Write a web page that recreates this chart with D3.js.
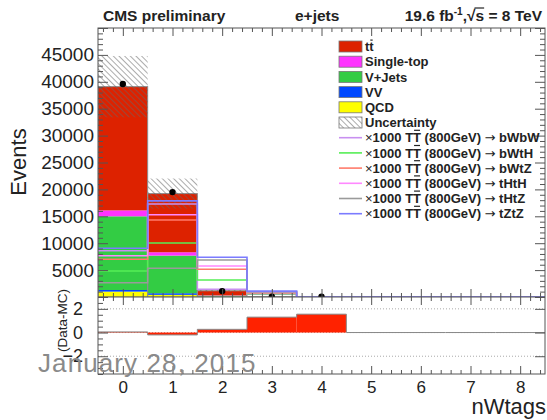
<!DOCTYPE html>
<html>
<head>
<meta charset="utf-8">
<script src="https://cdn.jsdelivr.net/npm/d3@7"></script>
<style>
body { margin: 0; background: #fff; }
text { font-family: "Liberation Sans", Arial, Helvetica, sans-serif; fill: #222; }
</style>
</head>
<body>
<script>
/* Data (nWtags bins 0..8) */
var bins = [0, 1, 2, 3, 4, 5, 6, 7, 8];
var ttbar     = [23000, 10900, 850, 40, 10, 0, 0, 0, 0];
var singleTop = [1100, 620, 60, 10, 0, 0, 0, 0, 0];
var vJets     = [13700, 7000, 200, 10, 0, 0, 0, 0, 0];
var vv        = [300, 300, 20, 0, 0, 0, 0, 0, 0];
var qcd       = [1000, 400, 30, 0, 0, 0, 0, 0, 0];
var mcUnc     = [5700, 2800, 150, 20, 5, 0, 0, 0, 0];
var dataBins  = [0, 1, 2, 3, 4];
var dataVals  = [39600, 19500, 1100, 60, 60];
var ratioVals = [0.05, -0.2, 0.27, 1.3, 1.55, 0, 0, 0, 0];

// x1000 signal templates
var sigBWbW = [8600, 17300, 1430, 500, 0, 0, 0, 0, 0];
var sigBWtH = [4840, 10040, 3160, 600, 0, 0, 0, 0, 0];
var sigBWtZ = [7010, 14300, 5150, 750, 0, 0, 0, 0, 0];
var sigTHtH = [7680, 15300, 5770, 850, 0, 0, 0, 0, 0];
var sigTHtZ = [2660, 5340, 6880, 950, 0, 0, 0, 0, 0];
var sigTZtZ = [9060, 17860, 7380, 1100, 0, 0, 0, 0, 0];

var stackKeys   = ["qcd", "vv", "vjets", "st", "tt"];
var stackColors = {qcd: "#ffff00", vv: "#0048ff", vjets: "#33cc44", st: "#ff33ff", tt: "#dd2200"};
var legendLabels = ["tt", "Single-top", "V+Jets", "VV", "QCD", "Uncertainty"];
var legendKeys   = ["tt", "st", "vjets", "vv", "qcd", "unc"];
var sigNames  = ["bWbW", "bWtH", "bWtZ", "tHtH", "tHtZ", "tZtZ"];
var sigColors = ["#c890f0", "#55ee55", "#ff7b6b", "#ff88ff", "#9a9a9a", "#7b7bff"];
var sigVals   = [sigBWbW, sigBWtH, sigBWtZ, sigTHtH, sigTHtZ, sigTZtZ];
var ratioTicks = [-2, 0, 2];

/* Display setup */
var W = 547, H = 420,
	pad = {left: 98, right: 545, top: 28, mid: 297, bottom: 374},
	x = d3.scaleLinear().domain([-0.5, 8.5]).range([pad.left, pad.right]),
	y = d3.scaleLinear().domain([0, 50000]).range([pad.mid, pad.top]),
	yr = d3.scaleLinear().domain([-3.5, 3]).range([pad.bottom, pad.mid]),
	svg = d3.select("body").append("svg").attr("width", W).attr("height", H);

svg.append("rect").attr("width", W).attr("height", H).style("fill", "white");

var defs = svg.append("defs");
defs.append("clipPath").attr("id", "clip-top")
	.append("rect").attr("x", pad.left).attr("y", pad.top)
	.attr("width", pad.right - pad.left).attr("height", pad.mid - pad.top);
defs.append("clipPath").attr("id", "clip-ratio")
	.append("rect").attr("x", pad.left).attr("y", pad.mid)
	.attr("width", pad.right - pad.left).attr("height", pad.bottom - pad.mid);
defs.append("clipPath").attr("id", "clip-rlabel")
	.append("rect").attr("x", 0).attr("y", 289).attr("width", pad.left).attr("height", 100);
var hatch = defs.append("pattern").attr("id", "hatch")
	.attr("patternUnits", "userSpaceOnUse").attr("width", 4).attr("height", 4)
	.attr("patternTransform", "rotate(-45)");
hatch.append("line").attr("x1", 0).attr("y1", 0).attr("x2", 0).attr("y2", 4)
	.style("stroke", "#666").style("stroke-width", 1.1);

function edgeL(b) { return x(b - 0.5); }
function edgeR(b) { return x(b + 0.5); }
function stepPoints(vals) {
	var pts = [];
	vals.forEach(function(v, i) { pts.push([edgeL(bins[i]), v]); pts.push([edgeR(bins[i]), v]); });
	return pts;
}

/* Stack */
var rows = bins.map(function(b, i) {
	return {bin: b, qcd: qcd[i], vv: vv[i], vjets: vJets[i], st: singleTop[i], tt: ttbar[i]};
});
var series = d3.stack().keys(stackKeys)(rows);
var topPad = svg.append("g").attr("clip-path", "url(#clip-top)");

topPad.selectAll("g.layer")
	.data(series)
	.enter().append("g")
		.attr("class", "layer")
		.style("fill", function(d) { return stackColors[d.key]; })
	.selectAll("rect")
	.data(function(d) { return d; })
	.enter().append("rect")
		.attr("x", function(d) { return edgeL(d.data.bin); })
		.attr("width", function(d) { return edgeR(d.data.bin) - edgeL(d.data.bin); })
		.attr("y", function(d) { return y(d[1]); })
		.attr("height", function(d) { return y(d[0]) - y(d[1]); });

var totals = rows.map(function(r) { return r.qcd + r.vv + r.vjets + r.st + r.tt; });

topPad.selectAll("rect.total")
	.data(rows.filter(function(r, i) { return totals[i] > 0; }))
	.enter().append("rect")
		.attr("class", "total")
		.attr("x", function(d) { return edgeL(d.bin); })
		.attr("width", function(d) { return edgeR(d.bin) - edgeL(d.bin); })
		.attr("y", function(d) { return y(totals[d.bin]); })
		.attr("height", function(d) { return y(0) - y(totals[d.bin]); })
		.style("fill", "none").style("stroke", "#8c8c8c").style("stroke-width", 1);

topPad.selectAll("rect.unc")
	.data(bins.filter(function(b) { return mcUnc[b] > 0; }))
	.enter().append("rect")
		.attr("class", "unc")
		.attr("x", function(b) { return edgeL(b); })
		.attr("width", function(b) { return edgeR(b) - edgeL(b); })
		.attr("y", function(b) { return y(totals[b] + mcUnc[b]); })
		.attr("height", function(b) { return y(Math.max(0, totals[b] - mcUnc[b])) - y(totals[b] + mcUnc[b]); })
		.style("fill", "url(#hatch)");

/* Signal lines */
var sigLine = d3.line().x(function(p) { return p[0]; }).y(function(p) { return y(p[1]); });
topPad.selectAll("path.sig")
	.data(sigVals)
	.enter().append("path")
		.attr("class", "sig")
		.attr("d", function(d) { return sigLine(stepPoints(d)); })
		.style("fill", "none")
		.style("stroke", function(d, i) { return sigColors[i]; })
		.style("stroke-width", 1.6);

/* Data points */
var pts = topPad.selectAll("g.pt")
	.data(dataBins)
	.enter().append("g").attr("class", "pt");
pts.append("line")
	.attr("x1", function(b) { return x(b); }).attr("x2", function(b) { return x(b); })
	.attr("y1", function(b, i) { return y(dataVals[i] + Math.sqrt(dataVals[i])); })
	.attr("y2", function(b, i) { return y(dataVals[i] - Math.sqrt(dataVals[i])); })
	.style("stroke", "black");
pts.append("circle")
	.attr("cx", function(b) { return x(b); })
	.attr("cy", function(b, i) { return y(dataVals[i]); })
	.attr("r", 3.2).style("fill", "black");

/* Ratio pad */
var rg = svg.append("g").attr("clip-path", "url(#clip-ratio)");
rg.selectAll("line.grid")
	.data(ratioTicks)
	.enter().append("line")
		.attr("x1", pad.left).attr("x2", pad.right)
		.attr("y1", function(d) { return yr(d); }).attr("y2", function(d) { return yr(d); })
		.style("stroke", "#aaa").style("stroke-dasharray", "1,2");
rg.selectAll("rect.ratio")
	.data(bins)
	.enter().append("rect")
		.attr("x", function(b) { return edgeL(b); })
		.attr("width", function(b) { return edgeR(b) - edgeL(b); })
		.attr("y", function(b) { return yr(Math.max(0, ratioVals[b])); })
		.attr("height", function(b) { return Math.abs(yr(0) - yr(ratioVals[b])); })
		.style("fill", "#ff2200");
rg.append("path")
	.attr("d", d3.line().x(function(p) { return p[0]; }).y(function(p) { return yr(p[1]); })(stepPoints(ratioVals)))
	.style("fill", "none").style("stroke", "#888").style("stroke-width", 1);

/* Axes (ROOT style, ticks inside) */
function styleAxis(g, fs) {
	g.select(".domain").remove();
	g.selectAll("line").style("stroke", "#555");
	g.selectAll("text").attr("font-family", null).attr("font-size", null)
		.style("font-size", fs + "px").style("fill", "#222");
	g.attr("font-family", null).attr("font-size", null);
}
function addAxis(axis, tx, ty, fs) {
	svg.append("g").attr("transform", "translate(" + tx + "," + ty + ")").call(axis).call(styleAxis, fs);
}
var xMajor = d3.range(0, 9, 1), xMinor = d3.range(-0.4, 8.5, 0.2).filter(function(v) { return Math.abs(v - Math.round(v)) > 0.01; });
var yMajor = d3.range(0, 50001, 5000), yMinor = d3.range(1000, 50000, 1000).filter(function(v) { return v % 5000; });
var rMinor = d3.range(-3.5, 3.01, 0.5).filter(function(v) { return v % 2; });

// upper pad
addAxis(d3.axisLeft(y).tickValues(yMajor).tickSize(-10).tickSizeOuter(0).tickPadding(4)
	.tickFormat(function(d) { return d > 0 && d < 50000 ? d : ""; }), pad.left, 0, 19);
addAxis(d3.axisLeft(y).tickValues(yMinor).tickSize(-5).tickSizeOuter(0).tickFormat(""), pad.left, 0, 10);
addAxis(d3.axisRight(y).tickValues(yMajor).tickSize(-10).tickSizeOuter(0).tickFormat(""), pad.right, 0, 10);
addAxis(d3.axisRight(y).tickValues(yMinor).tickSize(-5).tickSizeOuter(0).tickFormat(""), pad.right, 0, 10);
addAxis(d3.axisTop(x).tickValues(xMajor).tickSize(-8).tickSizeOuter(0).tickFormat(""), 0, pad.top, 10);
addAxis(d3.axisTop(x).tickValues(xMinor).tickSize(-4).tickSizeOuter(0).tickFormat(""), 0, pad.top, 10);
addAxis(d3.axisBottom(x).tickValues(xMajor).tickSize(-8).tickSizeOuter(0).tickFormat(""), 0, pad.mid, 10);
addAxis(d3.axisBottom(x).tickValues(xMinor).tickSize(-4).tickSizeOuter(0).tickFormat(""), 0, pad.mid, 10);
// ratio pad
addAxis(d3.axisTop(x).tickValues(xMajor).tickSize(-8).tickSizeOuter(0).tickFormat(""), 0, pad.mid, 10);
addAxis(d3.axisTop(x).tickValues(xMinor).tickSize(-4).tickSizeOuter(0).tickFormat(""), 0, pad.mid, 10);
addAxis(d3.axisBottom(x).tickValues(xMajor).tickSize(-8).tickSizeOuter(0).tickPadding(7), 0, pad.bottom, 17);
addAxis(d3.axisBottom(x).tickValues(xMinor).tickSize(-4).tickSizeOuter(0).tickFormat(""), 0, pad.bottom, 10);
addAxis(d3.axisLeft(yr).tickValues(ratioTicks).tickSize(-10).tickSizeOuter(0).tickPadding(15)
	.tickFormat(d3.format("d")), pad.left, 0, 18);
addAxis(d3.axisLeft(yr).tickValues(rMinor).tickSize(-5).tickSizeOuter(0).tickFormat(""), pad.left, 0, 10);
addAxis(d3.axisRight(yr).tickValues(ratioTicks).tickSize(-10).tickSizeOuter(0).tickFormat(""), pad.right, 0, 10);

// frames
svg.append("rect").attr("x", pad.left).attr("y", pad.top)
	.attr("width", pad.right - pad.left).attr("height", pad.bottom - pad.top)
	.style("fill", "none").style("stroke", "#555");
svg.append("line").attr("x1", pad.left).attr("x2", pad.right).attr("y1", pad.mid).attr("y2", pad.mid)
	.style("stroke", "#555");

/* Titles */
svg.append("text").attr("transform", "translate(26,162) rotate(-90)")
	.attr("text-anchor", "middle").style("font-size", "22px").text("Events");
svg.append("g").attr("clip-path", "url(#clip-rlabel)")
	.append("text").attr("transform", "translate(67,289) rotate(-90)")
	.attr("text-anchor", "end").style("font-size", "13.5px").text("(Data-MC)");
svg.append("text").attr("x", 546).attr("y", 414).attr("text-anchor", "end")
	.style("font-size", "22px").text("nWtags");

var hdr = svg.append("g").style("font-weight", "bold").style("font-size", "15.5px");
hdr.append("text").attr("x", 103).attr("y", 21).text("CMS preliminary");
hdr.append("text").attr("x", 295).attr("y", 21).text("e+jets");
var lumi = hdr.append("text").attr("x", 542).attr("y", 21).attr("text-anchor", "end");
lumi.append("tspan").text("19.6 fb");
lumi.append("tspan").attr("dy", -6).style("font-size", "10px").text("-1");
lumi.append("tspan").attr("dy", 6).text(",\u221As = 8 TeV");
(function() {
	var n = lumi.node(), str = n.textContent, i = str.indexOf("\u221A");
	var a = n.getExtentOfChar(i), b = n.getExtentOfChar(i + 1);
	hdr.append("line").attr("x1", a.x + a.width - 1).attr("x2", b.x + b.width)
		.attr("y1", 21 - 13).attr("y2", 21 - 13).style("stroke", "#222").style("stroke-width", 1.2);
})();

/* Legend */
var lg = svg.append("g"), legX = 339, legY0 = 46.5, legStep = 15.2;
lg.selectAll("rect.key")
	.data(legendKeys)
	.enter().append("rect")
		.attr("x", legX).attr("width", 23).attr("height", 11)
		.attr("y", function(d, i) { return legY0 + i * legStep - 5.5; })
		.style("fill", function(d) { return d === "unc" ? "url(#hatch)" : stackColors[d]; })
		.style("stroke", "#777").style("stroke-width", 0.8);
lg.selectAll("line.key")
	.data(sigNames)
	.enter().append("line")
		.attr("x1", legX).attr("x2", legX + 23)
		.attr("y1", function(d, i) { return legY0 + (i + 6) * legStep; })
		.attr("y2", function(d, i) { return legY0 + (i + 6) * legStep; })
		.style("stroke", function(d, i) { return sigColors[i]; }).style("stroke-width", 1.6);

var legRows = legendLabels.concat(sigNames);
lg.selectAll("text")
	.data(legRows)
	.enter().append("text")
		.attr("x", 365)
		.attr("y", function(d, i) { return legY0 + i * legStep + 4.6; })
		.style("font-size", "13px").style("font-weight", "bold")
		.each(function(d, i) {
			var t = d3.select(this), idx = 1;
			if (i < 6) {
				t.text(d);
			} else {
				t.append("tspan").style("font-weight", "normal").text("\u00D7");
				t.append("tspan").text("1000 TT (800GeV) ");
				t.append("tspan").style("font-family", "DejaVu Sans").style("font-weight", "normal")
					.style("font-size", "13px").text("\u2192");
				t.append("tspan").text("  " + d);
				idx = 7;
			}
			if (i > 0 && i < 6) return;
			// bar over the second t / T
			var e = this.getExtentOfChar(idx), base = legY0 + i * legStep + 4.6;
			var hy = base - (i === 0 ? 11 : 12);
			lg.append("line").attr("x1", e.x + 1).attr("x2", e.x + e.width - 1)
				.attr("y1", hy).attr("y2", hy).style("stroke", "#222").style("stroke-width", 1.2);
		});

/* Slide footer overlay */
svg.append("text").attr("x", 38).attr("y", 372)
	.style("font-size", "26px").style("letter-spacing", "1.1px")
	.style("fill", "#8a8a8a").text("January 28, 2015");
</script>
</body>
</html>
